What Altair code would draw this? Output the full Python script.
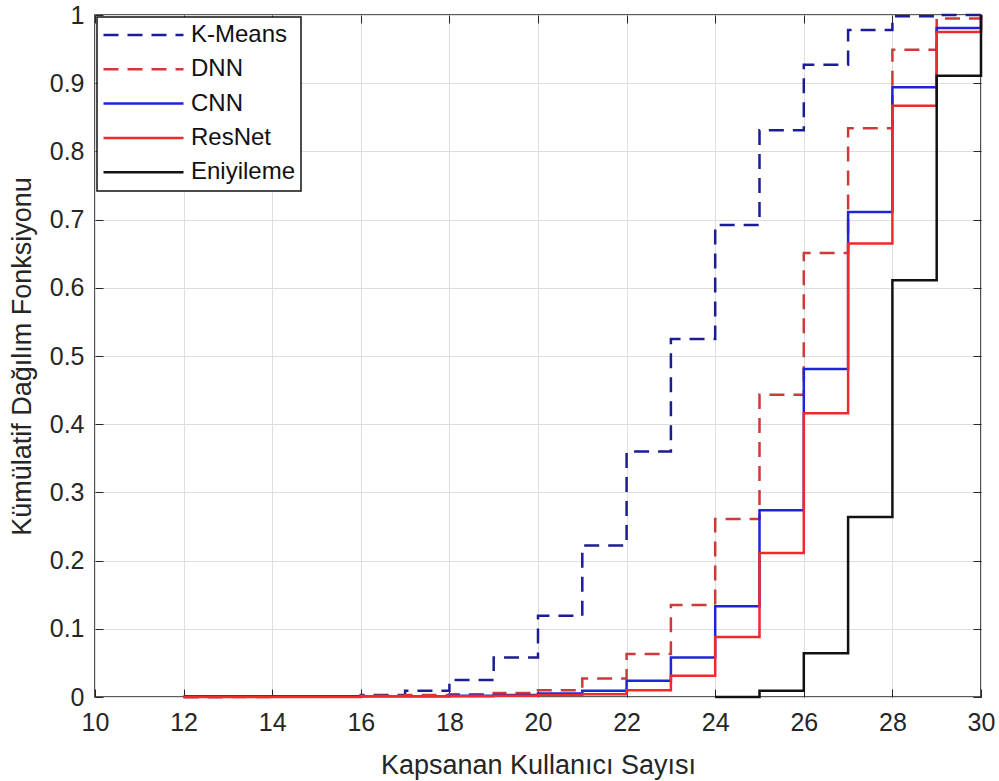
import altair as alt
import pandas as pd

# x positions of the steps (start of each interval, last point closes the step)
x_steps = [12, 13, 14, 15, 16, 17, 18, 19, 20, 21, 22, 23, 24, 25, 26, 27, 28, 29, 30]

kmeans = [0.0, 0.0005, 0.001, 0.001, 0.003, 0.009, 0.025, 0.058, 0.119, 0.222,
          0.36, 0.525, 0.692, 0.831, 0.927, 0.978, 0.998, 1.0, 1.0]
dnn = [0.0, 0.0, 0.001, 0.001, 0.002, 0.003, 0.004, 0.006, 0.01, 0.027,
       0.063, 0.135, 0.261, 0.443, 0.651, 0.834, 0.949, 0.995, 1.0]
cnn = [0.001, 0.001, 0.001, 0.001, 0.001, 0.001, 0.002, 0.003, 0.005, 0.009,
       0.024, 0.058, 0.133, 0.274, 0.481, 0.711, 0.894, 0.981, 1.0]
resnet = [0.0, 0.0, 0.0, 0.0, 0.001, 0.001, 0.001, 0.002, 0.003, 0.004,
          0.01, 0.031, 0.088, 0.211, 0.416, 0.665, 0.867, 0.975, 1.0]
x_opt = [24, 25, 26, 27, 28, 29, 30]
eniyileme = [0.0, 0.009, 0.064, 0.264, 0.611, 0.911, 1.0]

series_names = ["K-Means", "DNN", "CNN", "ResNet", "Eniyileme"]
series_colors = ["#1c1c96", "#cc3a3a", "#1f24d6", "#ee2a2a", "#111111"]
series_dashes = [[15, 9], [15, 9], [1, 0], [1, 0], [1, 0]]

x_ticks = [10, 12, 14, 16, 18, 20, 22, 24, 26, 28, 30]
y_ticks = [0, 0.1, 0.2, 0.3, 0.4, 0.5, 0.6, 0.7, 0.8, 0.9, 1]

rows = []
for name, xs, ys in [("K-Means", x_steps, kmeans), ("DNN", x_steps, dnn),
                     ("CNN", x_steps, cnn), ("ResNet", x_steps, resnet),
                     ("Eniyileme", x_opt, eniyileme)]:
    for i, (xv, yv) in enumerate(zip(xs, ys)):
        rows.append({"series": name, "x": xv, "y": yv, "order": i})
df = pd.DataFrame(rows)

FONT = "Liberation Sans"
TXT = "#262626"

x_scale = alt.Scale(domain=[10, 30], nice=False, zero=False)
y_scale = alt.Scale(domain=[0, 1], nice=False)


def legend_cfg():
    return alt.Legend(title=None, orient="top-left", offset=2,
                      symbolType="stroke", symbolSize=6400,
                      symbolStrokeWidth=2.5, labelFontSize=24,
                      clipHeight=26, rowPadding=8.3,
                      labelOffset=6, padding=5,
                      strokeColor="#111111", fillColor="white",
                      labelFont=FONT, labelColor="#111111")


base = alt.Chart(df)

main = base.mark_line(interpolate="step-after", strokeWidth=2.5).encode(
    x=alt.X("x:Q", scale=x_scale,
            axis=alt.Axis(values=x_ticks, title="Kapsanan Kullanıcı Sayısı",
                          labelFontSize=25, titleFontSize=27, labelPadding=13,
                          titlePadding=17, tickSize=0, domain=False,
                          labelFlush=False)),
    y=alt.Y("y:Q", scale=y_scale,
            axis=alt.Axis(values=y_ticks, title="Kümülatif Dağılım Fonksiyonu",
                          format="~g", labelFontSize=25, titleFontSize=27,
                          labelPadding=11, titlePadding=13, tickSize=0,
                          domain=False, labelFlush=False)),
    color=alt.Color("series:N",
                    scale=alt.Scale(domain=series_names, range=series_colors),
                    legend=legend_cfg()),
    strokeDash=alt.StrokeDash("series:N",
                              scale=alt.Scale(domain=series_names, range=series_dashes),
                              legend=legend_cfg()),
    order=alt.Order("order:Q"),
)


def inner_ticks(x_orient, y_orient):
    return base.mark_point(opacity=0).encode(
        x=alt.X("x:Q", scale=x_scale,
                axis=alt.Axis(orient=x_orient, values=x_ticks, offset=-8, tickSize=8,
                              tickColor=TXT, tickWidth=1, labels=False, domain=False,
                              grid=False, title=None)),
        y=alt.Y("y:Q", scale=y_scale,
                axis=alt.Axis(orient=y_orient, values=y_ticks, offset=-8, tickSize=8,
                              tickColor=TXT, tickWidth=1, labels=False, domain=False,
                              grid=False, title=None)),
    )


chart = alt.layer(
    main, inner_ticks("bottom", "left"), inner_ticks("top", "right")
).resolve_axis(
    x="independent", y="independent"
).properties(
    width=886, height=682,
    autosize=alt.AutoSizeParams(type="none"),
    padding={"left": 95, "top": 15, "right": 18, "bottom": 84},
).configure(
    font=FONT, background="white"
).configure_view(
    stroke="#262626", strokeWidth=1.6
).configure_legend(
    strokeWidth=1.5
).configure_axis(
    gridColor="#dedede", gridWidth=1, labelColor=TXT, titleColor=TXT,
    labelFont=FONT, titleFont=FONT, titleFontWeight="normal"
)

chart.save("out.html", embed_options={"renderer": "svg", "actions": False})
